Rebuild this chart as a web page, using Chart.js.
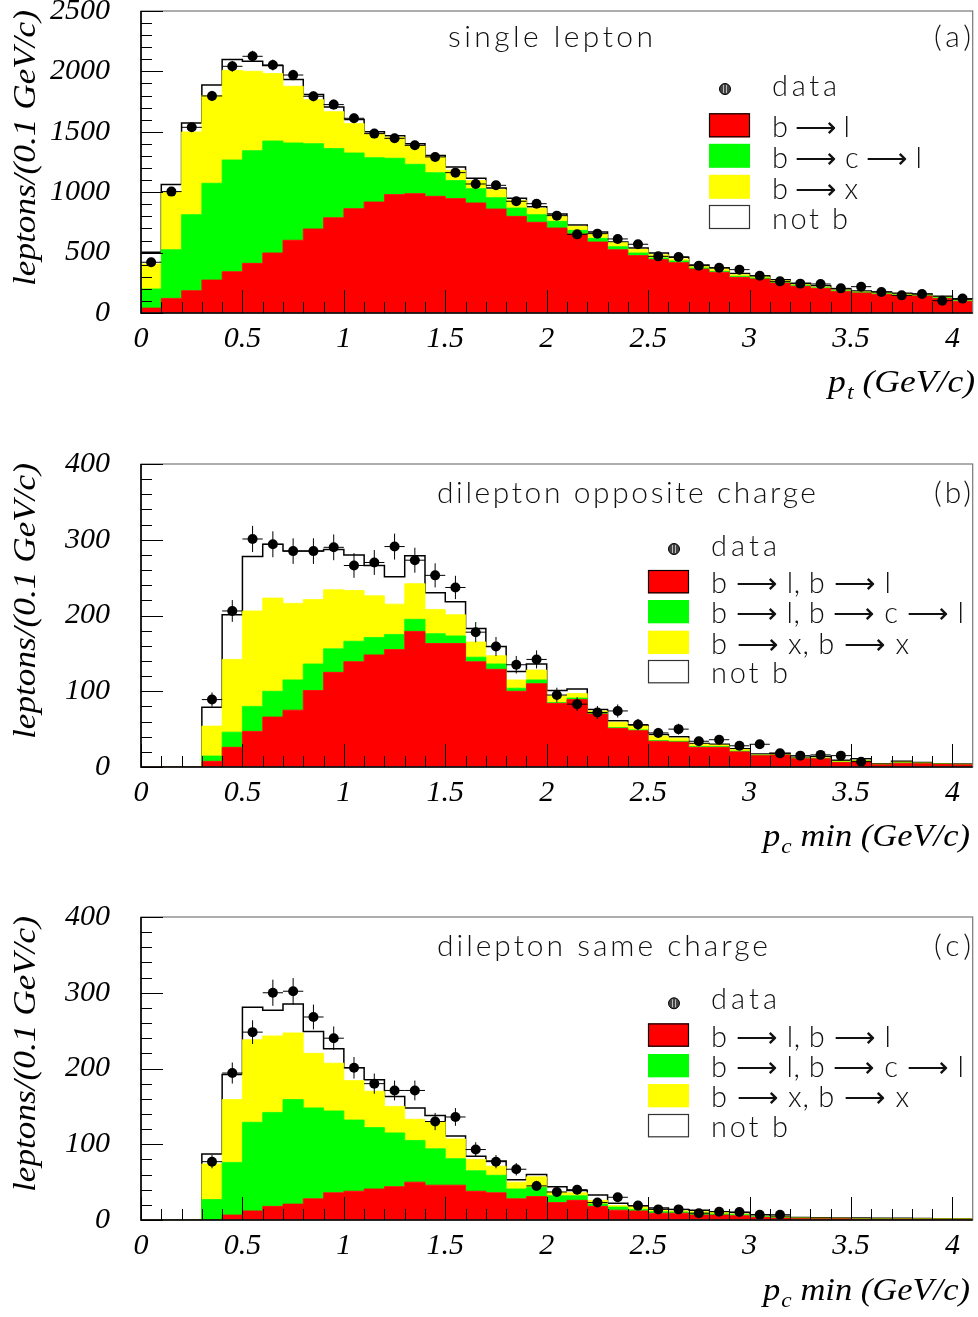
<!DOCTYPE html>
<html>
<head>
<meta charset="utf-8">
<script src="https://cdn.jsdelivr.net/npm/chart.js@4.4.1/dist/chart.umd.min.js"></script>
<style>
html,body{margin:0;padding:0;background:#fff;}
#wrap{position:relative;width:978px;height:1317px;overflow:hidden;}
canvas{position:absolute;left:0;}
</style>
</head>
<body>
<div id="wrap">
<canvas id="ca" width="978" height="440" style="top:0px"></canvas>
<canvas id="cb" width="978" height="440" style="top:453px"></canvas>
<canvas id="cc" width="978" height="411" style="top:906px"></canvas>
</div>
<script>
// ---------- data ----------
const binLow = [0.0,0.1,0.2,0.3,0.4,0.5,0.6,0.7,0.8,0.9,1.0,1.1,1.2,1.3,1.4,1.5,1.6,1.7,1.8,1.9,2.0,2.1,2.2,2.3,2.4,2.5,2.6,2.7,2.8,2.9,3.0,3.1,3.2,3.3,3.4,3.5,3.6,3.7,3.8,3.9,4.0];
const binWidth = 0.1;
const xMax = 4.1;
const xTickLabels = ['0','0.5','1','1.5','2','2.5','3','3.5','4'];
const aYTickLabels = ['0','500','1000','1500','2000','2500'];
const bcYTickLabels = ['0','100','200','300','400'];

// (a) single lepton
const aRed    = [41,121,185,273,342,411,497,602,696,789,864,919,980,988,966,947,911,861,800,751,704,654,588,524,475,442,417,364,337,295,282,248,221,204,179,166,155,144,141,121,97];
const aGreen  = [158,403,629,801,925,933,927,806,706,572,461,367,301,243,196,149,118,94,69,63,55,30,30,25,22,13,14,9,8,9,8,8,8,5,5,5,5,5,5,6,5];
const aYellow = [207,476,685,726,742,657,558,469,364,306,243,196,174,155,127,85,67,66,64,53,41,33,36,33,30,28,16,13,17,13,8,12,8,6,6,3,6,6,3,3,3];
const aNotB   = [96,63,74,88,89,83,66,55,42,39,33,19,13,16,14,28,19,14,16,13,20,12,17,6,11,14,14,11,11,9,8,8,9,11,9,8,8,8,8,8,8];
const aData   = [420,1005,1537,1797,2042,2125,2053,1970,1794,1725,1612,1485,1446,1388,1292,1162,1068,1057,925,905,806,651,657,613,569,469,464,392,375,359,309,262,243,240,204,218,174,146,157,102,119];
const aErr    = [20,32,39,42,45,46,45,44,42,42,40,39,38,37,36,34,33,33,30,30,28,26,26,25,24,22,22,20,19,19,18,16,16,15,14,15,13,12,13,10,11];

// (b) dilepton opposite charge
const bRed    = [0,0,0,7.5,26,47,66,75,101,125,139,148,155,179,163,163,139,129,100,110,84,89,70,51,48,34,33,26,26,20,15,16,11,11,6,7.5,3,5,4.4,3.5,3];
const bGreen  = [0,0,0,7,20,33,34,40,35,31,27,23,20,16,13,10,6,7,4,5,1,2,2,1,1,1,1,1,1,1,0.5,0.5,0.5,0.5,0.5,0.5,0.3,0.5,0.4,0.3,0.3];
const bYellow = [0,0,0,39.5,96,126,123,101,85,78,67,55,40,47,32,28,20,11,11,13,9,6,2,7,5,6,4,3,2,2,0.5,0.5,0.5,0.5,1,1,0.5,1,0.5,0.2,0.3];
const bNotB   = [0,0,0,25,59,72,71,69,64,53,47,40,36,37,22,17,18,12,11,8,7,6,2,2,1,2,2,1,1,1,1,1,1,2,1.5,2,0.6,1,0.7,0.4,0.4];
const bData   = [null,null,null,89,206,301,294,285,285,290,266,270,291,273,253,237,178,159,135,142,95,83,72,74,56,45,50,34,36,28,30,18,15,16,15,7,null,null,null,null,null];
const bErr    = [null,null,null,9.4,14.4,17.3,17.1,16.9,16.9,17,16.3,16.4,17.1,16.5,15.9,15.4,13.3,12.6,11.6,11.9,9.7,9.1,8.5,8.6,7.5,6.7,7.1,5.8,6,5.3,5.5,4.2,3.9,4,3.9,2.6,null,null,null,null,null];

// (c) dilepton same charge
const cRed    = [0,0,0,0,6.6,12,18,21,28,36,38,41,44,50,46,46,38,36,28,31,23,26,18,13,12,9,9,6.6,6.6,5.7,3.5,2.6,1.8,1.5,1.6,1.3,1.2,1.4,1.1,1,1];
const cGreen  = [0,0,0,27,69.4,117,124,138,120,108,94,81,71,55,48,35,27,23,13,12,9,6,3,4,2,2,1.5,2.4,1.4,1.3,0.9,0.6,0.4,0.4,0.3,0.3,0.3,0.2,0.2,0.2,0.2];
const cYellow = [0,0,0,47,83,109,101,88,72,63,52,48,35,28,36,26,15,12,9,14,5,4,5,2,3,3,1.5,2,2,1,0.6,0.8,0.5,0.5,0.4,0.4,0.3,0.3,0.3,0.3,0.3];
const cNotB   = [0,0,0,13,33,43,34,38,29,19,17,15,13,15,8,4,4,7,3,3,7,3,7,3,1.5,2,2,2,1,2,2,1,0.6,0.5,0.5,0.5,0.4,0.4,0.4,0.3,0.3];
const cData   = [null,null,null,77,194,248,300,302,268,240,201,180,171,171,130,136,93,77,67,45,37,40,23,30,19,14,14,9,11,10.5,7,7,null,null,null,null,null,null,null,null,null];
const cErr    = [null,null,null,8.8,13.9,15.7,17.3,17.4,16.4,15.5,14.2,13.4,13.1,13.1,11.4,11.7,9.6,8.8,8.2,6.7,6.1,6.3,4.8,5.5,4.4,3.7,3.7,3,3.3,3.2,2.6,2.6,null,null,null,null,null,null,null,null,null];

const singleLabels = ['data','b \u27F6 l','b \u27F6 c \u27F6 l','b \u27F6 x','not b'];
const diLabels = ['data','b \u27F6 l, b \u27F6 l','b \u27F6 l, b \u27F6 c \u27F6 l','b \u27F6 x, b \u27F6 x','not b'];

// ---------- layout / style ----------
const SERIF = "'Liberation Serif','Times New Roman',serif";
const SANS_LIGHT = "300 29px Lato, 'DejaVu Sans', sans-serif";
const TITLE_FONT = "300 30px Lato, 'DejaVu Sans', sans-serif";
const COLORS = ['#ff0000','#00ff00','#ffff00','#ffffff'];

const panels = [
  { id:'ca', H:440, top:11, bottom:313, yMax:2500, yMajor:500, yMinor:100, yLabels:aYTickLabels,
    stacks:[aRed,aGreen,aYellow,aNotB], data:aData, err:aErr, labels:singleLabels,
    title:'single lepton', titleX:448, titleW:205, titleBase:46.7, tag:'(a)',
    leg:{mx:725, my:89, tx:772, dataBase:96, bx:709, bw:41, bh:24, rows:[137.3,167.8,198.8,229], widths:[65,78,150,86,76]},
    xt:{sub:'t', rest:' (GeV/c)', right:975, width:147, base:391.7} },
  { id:'cb', H:440, top:11, bottom:314, yMax:400, yMajor:100, yMinor:20, yLabels:bcYTickLabels,
    stacks:[bRed,bGreen,bYellow,bNotB], data:bData, err:bErr, labels:diLabels,
    title:'dilepton opposite charge', titleX:437, titleW:379, titleBase:49.7, tag:'(b)',
    leg:{mx:674, my:96, tx:711, dataBase:103, bx:648, bw:41, bh:23.3, rows:[140.3,170.3,201,230.3], widths:[66,180,253,198,77]},
    xt:{sub:'c', rest:' min (GeV/c)', right:970, width:207, base:393} },
  { id:'cc', H:411, top:11, bottom:314, yMax:400, yMajor:100, yMinor:20, yLabels:bcYTickLabels,
    stacks:[cRed,cGreen,cYellow,cNotB], data:cData, err:cErr, labels:diLabels,
    title:'dilepton same charge', titleX:437, titleW:331, titleBase:50, tag:'(c)',
    leg:{mx:674, my:97.3, tx:711, dataBase:103.3, bx:648, bw:41, bh:23.3, rows:[140.7,171.3,201.3,231.3], widths:[66,180,253,198,77]},
    xt:{sub:'c', rest:' min (GeV/c)', right:970, width:207, base:394} }
];

function spacedText(ctx, text, x, y, font, width) {
  ctx.font = font;
  if ('letterSpacing' in ctx) ctx.letterSpacing = '0px';
  const w = ctx.measureText(text).width;
  const n = Array.from(text).length;
  const ls = n > 1 ? (width - w) / (n - 1) : 0;
  ctx.textAlign = 'left';
  if ('letterSpacing' in ctx && ls > -3) {
    ctx.letterSpacing = ls + 'px';
    ctx.fillText(text, x, y);
    ctx.letterSpacing = '0px';
  } else {
    ctx.save(); ctx.translate(x, y); ctx.scale(width / w, 1); ctx.fillText(text, 0, 0); ctx.restore();
  }
}

function fitText(ctx, text, x, y, font, width) {
  ctx.font = font;
  const w = ctx.measureText(text).width;
  ctx.save(); ctx.translate(x, y); ctx.scale(width / w, 1);
  ctx.textAlign = 'left'; ctx.fillText(text, 0, 0); ctx.restore();
}

function decorPlugin(P) {
  return {
    id: 'decor_' + P.id,
    afterDatasetsDraw(chart) {
      const ctx = chart.ctx, ca = chart.chartArea, xs = chart.scales.x, ys = chart.scales.y;
      ctx.save();
      // frame
      ctx.strokeStyle = '#777'; ctx.lineWidth = 1.2;
      ctx.strokeRect(ca.left, ca.top, ca.right - ca.left, ca.bottom - ca.top);
      ctx.strokeStyle = '#000'; ctx.lineWidth = 1.6;
      ctx.beginPath(); ctx.moveTo(ca.left, ca.top); ctx.lineTo(ca.left, ca.bottom); ctx.lineTo(ca.right, ca.bottom); ctx.stroke();
      // inner ticks
      ctx.lineWidth = 1;
      const nY = Math.round(P.yMax / P.yMinor);
      const perMajY = Math.round(P.yMajor / P.yMinor);
      for (let k = 0; k <= nY; k++) {
        const py = Math.round(ys.getPixelForValue(k * P.yMinor)) + 0.5;
        const len = (k % perMajY === 0) ? 22 : 11;
        ctx.beginPath(); ctx.moveTo(ca.left, py); ctx.lineTo(ca.left + len, py); ctx.stroke();
      }
      for (let k = 0; k < binLow.length; k++) {
        const px = Math.round(xs.getPixelForValue(binLow[k])) + 0.5;
        const len = (k % 5 === 0) ? 23 : 11;
        ctx.beginPath(); ctx.moveTo(px, ca.bottom); ctx.lineTo(px, ca.bottom - len); ctx.stroke();
      }
      // error bars
      ctx.strokeStyle = '#000'; ctx.lineWidth = 1;
      P.data.forEach((d, i) => {
        if (d === null) return;
        const e = P.err[i];
        const cx = xs.getPixelForValue(binLow[i] + binWidth / 2);
        const x0 = xs.getPixelForValue(binLow[i]);
        const x1 = xs.getPixelForValue(binLow[i] + binWidth);
        const py = ys.getPixelForValue(d);
        ctx.beginPath();
        ctx.moveTo(x0, py); ctx.lineTo(x1, py);
        ctx.moveTo(cx, ys.getPixelForValue(d - e)); ctx.lineTo(cx, ys.getPixelForValue(d + e));
        ctx.stroke();
      });
      ctx.restore();
    },
    afterDraw(chart) {
      const ctx = chart.ctx, ca = chart.chartArea;
      ctx.save();
      ctx.fillStyle = '#111';
      ctx.textBaseline = 'alphabetic';
      // panel title and tag
      spacedText(ctx, P.title, P.titleX, P.titleBase, TITLE_FONT, P.titleW);
      spacedText(ctx, P.tag, 934, P.titleBase, TITLE_FONT, 37);
      // legend
      const L = P.leg;
      ctx.beginPath(); ctx.arc(L.mx, L.my, 5.5, 0, Math.PI * 2);
      ctx.fillStyle = '#444'; ctx.fill(); ctx.strokeStyle = '#000'; ctx.lineWidth = 1; ctx.stroke();
      ctx.strokeStyle = '#bbb';
      ctx.beginPath(); ctx.moveTo(L.mx - 1.5, L.my - 4); ctx.lineTo(L.mx - 1.5, L.my + 4);
      ctx.moveTo(L.mx + 1.5, L.my - 4); ctx.lineTo(L.mx + 1.5, L.my + 4); ctx.stroke();
      ctx.fillStyle = '#111';
      spacedText(ctx, P.labels[0], L.tx, L.dataBase, SANS_LIGHT, L.widths[0]);
      for (let r = 0; r < 4; r++) {
        const yb = L.rows[r];
        ctx.fillStyle = COLORS[r];
        ctx.fillRect(L.bx, yb - L.bh, L.bw, L.bh);
        if (r === 0 || r === 3) {
          ctx.strokeStyle = r === 0 ? '#000' : '#333'; ctx.lineWidth = 1.2;
          ctx.strokeRect(L.bx + 0.5, yb - L.bh + 0.5, L.bw - 1, L.bh - 1);
        }
        ctx.fillStyle = '#111';
        spacedText(ctx, P.labels[r + 1], L.tx, yb, SANS_LIGHT, L.widths[r + 1]);
      }
      // y axis title (rotated)
      ctx.fillStyle = '#000';
      ctx.save();
      ctx.translate(35, ca.top - 1 + 276);
      ctx.rotate(-Math.PI / 2);
      fitText(ctx, 'leptons/(0.1 GeV/c)', 0, 0, 'italic 32px ' + SERIF, 276);
      ctx.restore();
      // x axis title with subscript
      const fMain = 'italic 31px ' + SERIF, fSub = 'italic 21px ' + SERIF;
      ctx.font = fMain; const wp = ctx.measureText('p').width;
      ctx.font = fSub; const ws = ctx.measureText(P.xt.sub).width;
      ctx.font = fMain; const wr = ctx.measureText(P.xt.rest).width;
      const tot = wp + 1 + ws + wr;
      const s = P.xt.width / tot;
      ctx.save();
      ctx.translate(P.xt.right - P.xt.width, P.xt.base);
      ctx.scale(s, 1);
      ctx.textAlign = 'left';
      ctx.font = fMain; ctx.fillText('p', 0, 0);
      ctx.font = fSub; ctx.fillText(P.xt.sub, wp + 1, 7);
      ctx.font = fMain; ctx.fillText(P.xt.rest, wp + 1 + ws, 0);
      ctx.restore();
      ctx.restore();
    }
  };
}

function steps(arr) {
  return binLow.map((e, i) => ({ x: e, y: arr[i] })).concat([{ x: xMax, y: arr[arr.length - 1] }]);
}
function centers(arr) {
  return binLow.map((e, i) => ({ x: e + binWidth / 2, y: arr[i] }));
}

panels.forEach(P => {
  const fills = ['origin', '-1', '-1', '-1'];
  const histSets = P.stacks.map((arr, k) => ({
    label: P.labels[k + 1],
    data: steps(arr),
    stepped: true,
    fill: fills[k],
    backgroundColor: COLORS[k],
    borderColor: k === 3 ? '#000' : COLORS[k],
    borderWidth: k === 3 ? 1.5 : 0.8,
    pointRadius: 0,
    pointHoverRadius: 0,
    stack: 'mc'
  }));
  const ptsSet = {
    label: P.labels[0],
    data: centers(P.data),
    showLine: false,
    fill: false,
    pointRadius: 5,
    pointHoverRadius: 5,
    pointBackgroundColor: '#000',
    pointBorderColor: '#000',
    pointBorderWidth: 0,
    stack: 'pts',
    order: -1
  };
  new Chart(document.getElementById(P.id), {
    type: 'line',
    data: { datasets: [ptsSet].concat(histSets) },
    options: {
      responsive: false,
      animation: false,
      devicePixelRatio: 1,
      events: [],
      layout: { autoPadding: false, padding: { top: P.top, left: 0, right: 5.3, bottom: 0 } },
      plugins: { legend: { display: false }, tooltip: { enabled: false } },
      scales: {
        x: {
          type: 'linear', min: 0, max: xMax, bounds: 'data',
          grid: { display: false, drawTicks: false }, border: { display: false },
          ticks: {
            stepSize: 0.5, includeBounds: false, autoSkip: false, maxRotation: 0,
            padding: 8, color: '#000',
            font: { family: SERIF, style: 'italic', size: 30 },
            callback: (v, i) => xTickLabels[i]
          },
          afterFit: s => { s.height = P.H - P.bottom; s.paddingLeft = 0; s.paddingRight = 0; }
        },
        y: {
          type: 'linear', min: 0, max: P.yMax, stacked: true,
          grid: { display: false, drawTicks: false }, border: { display: false },
          ticks: {
            stepSize: P.yMajor, padding: 31, color: '#000',
            font: { family: SERIF, style: 'italic', size: 30 },
            callback: (v, i) => P.yLabels[i]
          },
          afterFit: s => { s.width = 141; s.paddingTop = 0; s.paddingBottom = 0; }
        }
      }
    },
    plugins: [decorPlugin(P)]
  });
});
</script>
</body>
</html>
